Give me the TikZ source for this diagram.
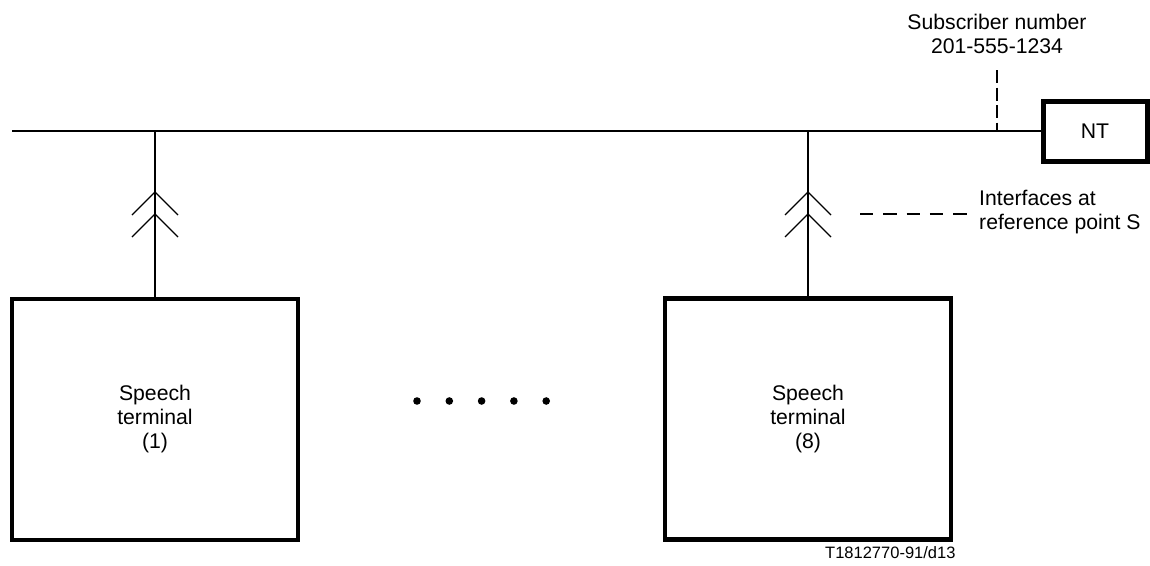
\documentclass[tikz,border=0pt]{standalone}
\usepackage{fontspec}
\setmainfont{Liberation Sans}
\begin{document}
\begin{tikzpicture}[x=1pt,y=-1pt,
  thinln/.style={line width=1.3pt},
  txt/.style={font=\fontsize{21.2}{24}\selectfont},
  termbox/.style={draw,line width=4.5pt,minimum width=286pt,minimum height=241pt,inner sep=0pt,align=center,txt},
  ntbox/.style={draw,line width=5pt,minimum width=104pt,minimum height=60pt,inner sep=0pt,txt},
  chev/.style={thinln},
  dashv/.style={thinln,dash pattern=on 13pt off 4.5pt},
  dashh/.style={thinln,dash pattern=on 13.3pt off 10pt}]
\useasboundingbox (0,0) rectangle (1150,565);

% boxes
\node[ntbox] (NT) at (1095,131) {NT};
\node[termbox] (T1) at (155,419.5) {Speech\\terminal\\(1)};
\node[termbox] (T8) at (808,419) {Speech\\terminal\\(8)};

% bus
\coordinate (busL) at (12,131);
\draw[thinln] (busL) -- (NT.west);

% taps with chevrons
\foreach \t in {T1,T8}{
  \draw[thinln] (\t.north) -- (\t.north |- busL);
  \draw[chev,shift={(\t.north |- busL)}] (-23,84) -- (0,61) -- (23,84);
  \draw[chev,shift={(\t.north |- busL)}] (-23,106) -- (0,83) -- (23,106);
}

% subscriber number
\node[txt,align=center,anchor=base,inner sep=0pt] (sub) at (997,53) {Subscriber number\\201-555-1234};
\coordinate (subTop) at (997,70);
\coordinate (subBot) at (997,131);
\draw[dashv] (subTop) -- (subBot);

% interfaces label
\node[txt,align=left,anchor=base west,inner sep=0pt] (ifs) at (979,229) {Interfaces at\\reference point S};
\coordinate (ifL) at (860,214);
\coordinate (ifR) at (967,214);
\draw[dashh] (ifL) -- (ifR);

% dots
\foreach \i in {0,...,4}{
  \fill (417+32.3*\i,401) circle (3.8);
}

% footer
\node[font=\fontsize{16.5}{19}\selectfont,anchor=base west,inner sep=0pt] (foot) at (825,558) {T1812770-91/d13};
\end{tikzpicture}
\end{document}
